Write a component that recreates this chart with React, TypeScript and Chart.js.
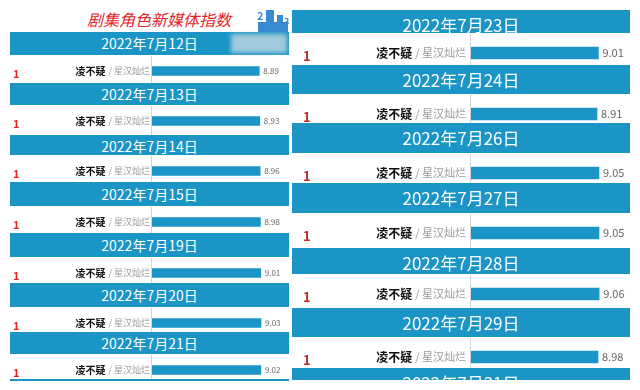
import React, { useEffect, useRef } from "react";
import { Chart, registerables } from "chart.js";

Chart.register(...registerables);

// ---------- data ----------
const titleText = "剧集角色新媒体指数";
const rankText = "1";
const roleName = "凌不疑";
const dramaName = "星汉灿烂";

const leftDates = [
  "2022年7月12日",
  "2022年7月13日",
  "2022年7月14日",
  "2022年7月15日",
  "2022年7月19日",
  "2022年7月20日",
  "2022年7月21日",
];
const leftValues = [8.89, 8.93, 8.96, 8.98, 9.01, 9.03, 9.02];

const rightDates = [
  "2022年7月23日",
  "2022年7月24日",
  "2022年7月26日",
  "2022年7月27日",
  "2022年7月28日",
  "2022年7月29日",
  "2022年7月31日",
];
const rightValues = [9.01, 8.91, 9.05, 9.05, 9.06, 8.98];

// ---------- layout / style ----------
const BLUE = "#1b95c6";
const FONT = '"Noto Sans CJK SC", "Noto Sans", sans-serif';

const leftHeaderH = [23, 22, 20, 24, 24, 24, 22, 4];
const leftRowH = [28, 30, 27, 27, 26, 25, 25];
const rightHeaderH = [23, 29, 30, 30, 26, 29, 29];
const rightRowH = [32, 29, 30, 35, 34, 31];

type Variant = {
  width: number;
  axisLeft: number;
  xMax: number;
  barThickness: number;
  barCenter: number;
  rankX: number;
  rankSize: number;
  rankColor: string;
  rankDy: number;
  nameSize: number;
  dramaSize: number;
  valueSize: number;
  labelGap: number;
  nameGap: number;
};

const leftVariant: Variant = {
  width: 279,
  axisLeft: 142,
  xMax: 11.35,
  barThickness: 9,
  barCenter: 16,
  rankX: 3,
  rankSize: 11,
  rankColor: "#e02424",
  rankDy: 7,
  nameSize: 10,
  dramaSize: 9,
  valueSize: 8,
  labelGap: 2,
  nameGap: 3,
};

const rightVariant: Variant = {
  width: 348,
  axisLeft: 179,
  xMax: 11.95,
  barThickness: 12,
  barCenter: 20,
  rankX: 11,
  rankSize: 13,
  rankColor: "#c0282b",
  rankDy: 8,
  nameSize: 12,
  dramaSize: 11,
  valueSize: 11,
  labelGap: 5,
  nameGap: 3,
};

function RowChart({ value, height, v }: { value: number; height: number; v: Variant }) {
  const ref = useRef<HTMLCanvasElement>(null);
  useEffect(() => {
    const decor = {
      id: "rowDecor",
      afterDatasetsDraw(chart: any) {
        const ctx = chart.ctx as CanvasRenderingContext2D;
        const bar = chart.getDatasetMeta(0).data[0];
        const yc = bar.y;
        const ax = chart.chartArea.left;
        ctx.save();
        // axis line
        ctx.strokeStyle = "#d2d2d2";
        ctx.lineWidth = 1;
        ctx.beginPath();
        ctx.moveTo(ax - 0.5, 1);
        ctx.lineTo(ax - 0.5, chart.height);
        ctx.stroke();
        // labels
        ctx.textBaseline = "middle";
        ctx.textAlign = "right";
        const drama = "/ " + dramaName;
        ctx.font = `${v.dramaSize}px ${FONT}`;
        ctx.fillStyle = "#9b9b9b";
        ctx.fillText(drama, ax - v.labelGap, yc);
        const dw = ctx.measureText(drama).width;
        ctx.font = `bold ${v.nameSize}px ${FONT}`;
        ctx.fillStyle = "#111111";
        ctx.fillText(roleName, ax - v.labelGap - dw - v.nameGap, yc);
        // rank
        ctx.textAlign = "left";
        ctx.textBaseline = "alphabetic";
        ctx.font = `bold ${v.rankSize}px ${FONT}`;
        ctx.fillStyle = v.rankColor;
        ctx.fillText(rankText, v.rankX, yc + v.rankDy);
        // value
        ctx.textBaseline = "middle";
        ctx.font = `${v.valueSize}px ${FONT}`;
        ctx.fillStyle = "#666666";
        ctx.fillText(value.toFixed(2), bar.x + 4, yc);
        ctx.restore();
      },
    };
    const chart = new Chart(ref.current as HTMLCanvasElement, {
      type: "bar",
      data: {
        labels: [roleName],
        datasets: [
          {
            data: [value],
            backgroundColor: BLUE,
            borderWidth: 0,
            barThickness: v.barThickness,
          },
        ],
      },
      options: {
        indexAxis: "y",
        responsive: false,
        animation: false,
        devicePixelRatio: 1,
        layout: {
          padding: { left: v.axisLeft, right: 0, top: 2 * v.barCenter - height, bottom: 0 },
        },
        plugins: {
          legend: { display: false },
          tooltip: { enabled: false },
          title: { display: false },
        },
        scales: {
          x: { display: false, min: 0, max: v.xMax },
          y: { display: false },
        },
      },
      plugins: [decor],
    } as any);
    return () => chart.destroy();
  }, [value, height, v]);
  return (
    <canvas
      ref={ref}
      width={v.width}
      height={height}
      style={{ display: "block", width: v.width, height }}
    />
  );
}

function Header({ text, width, height, fontSize }: { text: string; width: number; height: number; fontSize: number }) {
  const lh = Math.max(height, fontSize === 17 ? 29 : 23);
  return (
    <div
      style={{
        width,
        height,
        background: BLUE,
        color: "#ffffff",
        fontFamily: FONT,
        fontSize,
        lineHeight: `${lh}px`,
        textAlign: "center",
        overflow: "hidden",
        whiteSpace: "nowrap",
      }}
    >
      {text}
    </div>
  );
}

export default function App() {
  return (
    <div
      style={{
        position: "absolute",
        left: 0,
        top: 0,
        width: 640,
        height: 390,
        background: "#ffffff",
        overflow: "hidden",
      }}
    >
      {/* title */}
      <div
        style={{
          position: "absolute",
          left: 87,
          top: 9,
          fontFamily: FONT,
          fontSize: 16,
          lineHeight: "20px",
          fontStyle: "italic",
          color: "#e8262a",
          whiteSpace: "nowrap",
        }}
      >
        {titleText}
      </div>

      {/* left column */}
      <div
        style={{
          position: "absolute",
          left: 10,
          top: 32,
          width: 279,
          height: 349,
          overflow: "hidden",
        }}
      >
        {leftDates.map((d, i) => (
          <React.Fragment key={d}>
            <Header text={d} width={279} height={leftHeaderH[i]} fontSize={14} />
            <RowChart value={leftValues[i]} height={leftRowH[i]} v={leftVariant} />
          </React.Fragment>
        ))}
        <Header text="" width={279} height={leftHeaderH[7]} fontSize={14} />
      </div>

      {/* logo approximation */}
      <div style={{ position: "absolute", left: 231, top: 34, width: 56, height: 19, background: "#b7d3e0", filter: "blur(2px)", opacity: 0.85 }} />
      <div style={{ position: "absolute", left: 258, top: 22, width: 30, height: 10, background: "#3a8ad0", filter: "blur(0.6px)" }} />
      <div style={{ position: "absolute", left: 266, top: 10, width: 8, height: 14, background: "#3a8ad0", filter: "blur(0.6px)" }} />
      <div style={{ position: "absolute", left: 277, top: 15, width: 6, height: 8, background: "#3a8ad0", filter: "blur(0.6px)" }} />
      <div style={{ position: "absolute", left: 257, top: 9, fontFamily: FONT, fontSize: 11, fontWeight: 700, color: "#3a8ad0", lineHeight: "12px" }}>2</div>
      <div style={{ position: "absolute", left: 284, top: 17, fontFamily: FONT, fontSize: 9, fontWeight: 700, color: "#3a8ad0", lineHeight: "10px" }}>3</div>

      {/* right column */}
      <div
        style={{
          position: "absolute",
          left: 292,
          top: 10,
          width: 348,
          height: 370,
          overflow: "hidden",
        }}
      >
        {rightDates.map((d, i) => (
          <React.Fragment key={d}>
            <Header text={d} width={338} height={rightHeaderH[i]} fontSize={17} />
            {i < rightValues.length ? (
              <RowChart value={rightValues[i]} height={rightRowH[i]} v={rightVariant} />
            ) : null}
          </React.Fragment>
        ))}
      </div>
    </div>
  );
}
